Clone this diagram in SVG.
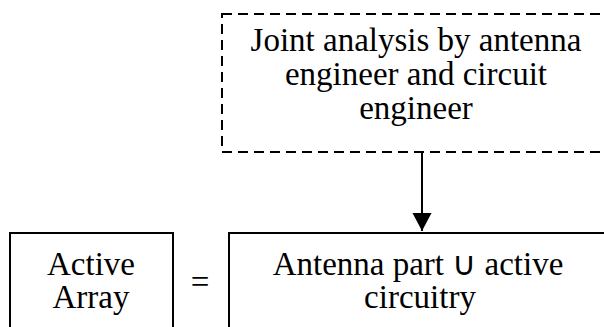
<svg xmlns="http://www.w3.org/2000/svg" width="604" height="327" viewBox="0 0 604 327">
<defs>
<style>
.t{font-family:"Liberation Serif","Times New Roman",serif;font-size:33px;fill:#000;text-anchor:middle}
.box{fill:none;stroke:#000;stroke-width:2}
.dash{fill:none;stroke:#000;stroke-width:2;stroke-dasharray:10 6}
</style>
<marker id="ah" markerWidth="20" markerHeight="20" refX="18" refY="9.5" orient="auto" markerUnits="userSpaceOnUse">
<path d="M0,0 L18,9.5 L0,19 Z" fill="#000"/>
</marker>
</defs>
<rect width="604" height="327" fill="#fff"/>
<g id="joint">
<rect class="dash" x="222" y="14" width="400" height="138"/>
<text class="t" x="416" y="51">Joint analysis by antenna</text>
<text class="t" x="416" y="85">engineer and circuit</text>
<text class="t" x="416" y="119">engineer</text>
</g>
<g id="active">
<rect class="box" x="10" y="233" width="163" height="110"/>
<text class="t" x="91" y="275">Active</text>
<text class="t" x="91" y="308">Array</text>
</g>
<g id="equals">
<text class="t" x="200" y="293">=</text>
</g>
<g id="antenna">
<rect class="box" x="229" y="233" width="400" height="110"/>
<text class="t" x="418" y="275">Antenna part ∪ active</text>
<text class="t" x="420" y="308">circuitry</text>
</g>
<g id="connectors">
<line x1="422" y1="152" x2="422" y2="231" stroke="#000" stroke-width="2" marker-end="url(#ah)"/>
</g>
</svg>
